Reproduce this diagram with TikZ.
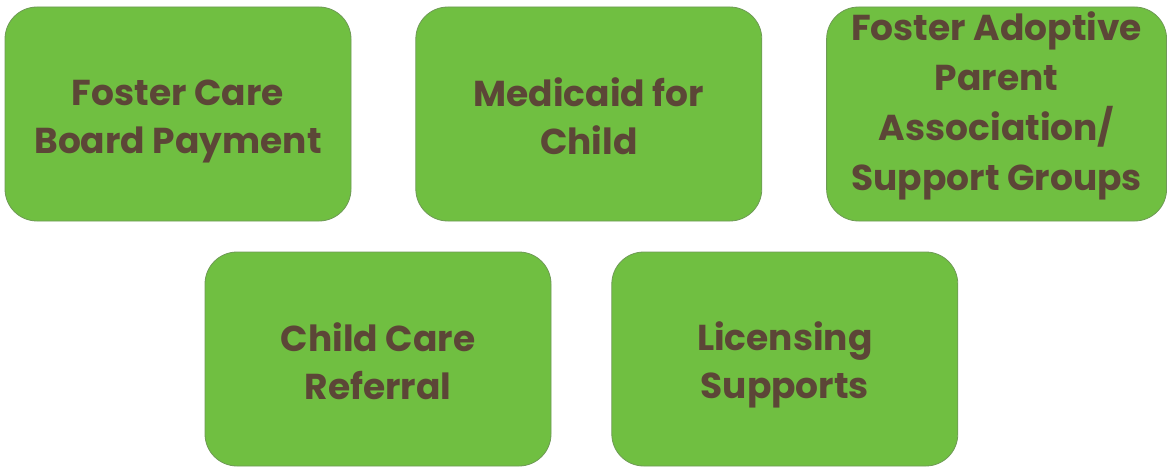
\documentclass[tikz,border=0pt]{standalone}
\usepackage{fontspec}
\setmainfont{Poppins}
\usepackage{tikz}
\usetikzlibrary{positioning}
\definecolor{boxgreen}{HTML}{70BF41}
\definecolor{boxline}{HTML}{6E9A55}
\definecolor{textbrown}{HTML}{5C4637}
\newcommand{\upstrut}{\rule{0pt}{40pt}}
\newcommand{\dnstrut}{\rule[-8pt]{0pt}{8pt}}
\tikzset{
  support/.style={draw=boxline, line width=0.8pt, fill=boxgreen, rounded corners=32pt,
    minimum width=346pt, minimum height=214pt, align=center, text=textbrown,
    font=\fontsize{36}{48}\selectfont\bfseries, inner sep=0pt}
}

\begin{document}
\begin{tikzpicture}[x=1pt,y=-1pt]

\useasboundingbox (0,0) rectangle (1167,468);

% top row
\node[support] (board) at (178,114) {\upstrut Foster Care\\Board Payment\dnstrut};
\node[support, right=64pt of board] (medicaid) {\upstrut Medicaid for\\Child\dnstrut};
\node[support, minimum width=340pt, right=64pt of medicaid] (fapa)
  {\rule{0pt}{30pt}Foster Adoptive\\[2pt]Parent\\[2pt]Association/\\[2pt]Support Groups\rule[-28pt]{0pt}{28pt}};

% bottom row
\node[support] (childcare) at (378,359) {\upstrut Child Care\\Referral\dnstrut};
\node[support, right=60pt of childcare] (licensing) {\upstrut Licensing\\Supports\dnstrut};

\end{tikzpicture}
\end{document}
